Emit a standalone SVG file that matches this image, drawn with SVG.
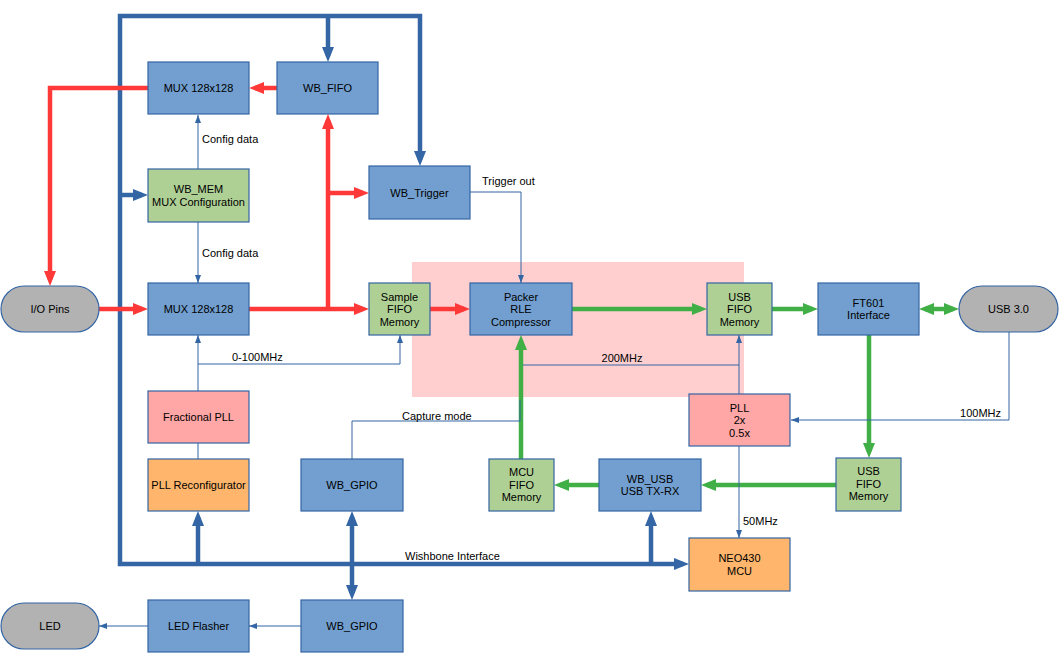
<svg xmlns="http://www.w3.org/2000/svg" width="1061" height="667" viewBox="0 0 1061 667">
<style>
.box{stroke:#3465a4;stroke-width:1.2}
.b{fill:#729fcf}.g{fill:#afd095}.r{fill:#ffa6a6}.o{fill:#ffb66c}.gr{fill:#b2b2b2}
text{font-family:"Liberation Sans",Arial,sans-serif;font-size:11px;fill:#000}
.c{text-anchor:middle}
.bus{fill:none;stroke:#3465a4;stroke-width:4.5}
.red{fill:none;stroke:#ff3838;stroke-width:4.5}
.grn{fill:none;stroke:#3faf46;stroke-width:4.5}
.thin{fill:none;stroke:#3465a4;stroke-width:1}
</style>
<defs>
<marker id="aB" markerUnits="userSpaceOnUse" markerWidth="15" markerHeight="12" refX="9" refY="6" orient="auto-start-reverse"><path d="M0,0L15,6L0,12z" fill="#3465a4"/></marker>
<marker id="aR" markerUnits="userSpaceOnUse" markerWidth="15" markerHeight="12" refX="9" refY="6" orient="auto-start-reverse"><path d="M0,0L15,6L0,12z" fill="#ff3838"/></marker>
<marker id="aG" markerUnits="userSpaceOnUse" markerWidth="15" markerHeight="12" refX="9" refY="6" orient="auto-start-reverse"><path d="M0,0L15,6L0,12z" fill="#3faf46"/></marker>
<marker id="aT" markerUnits="userSpaceOnUse" markerWidth="8" markerHeight="6" refX="8" refY="3" orient="auto"><path d="M0,0L8,3L0,6z" fill="#3465a4"/></marker>
</defs>
<rect id="clock-domain" x="412" y="262" width="332" height="135" fill="#ffcfcf"/>
<g id="connectors">
<path class="bus" d="M420,160L420,16L120,16L120,564L683,564" marker-start="url(#aB)" marker-end="url(#aB)"/>
<path class="bus" d="M328,16L328,56" marker-end="url(#aB)"/>
<path class="bus" d="M120,195L142,195" marker-end="url(#aB)"/>
<path class="bus" d="M198,564L198,517" marker-end="url(#aB)"/>
<path class="bus" d="M651,564L651,517" marker-end="url(#aB)"/>
<path class="bus" d="M352,517L352,594" marker-start="url(#aB)" marker-end="url(#aB)"/>
<path class="red" d="M148,88L50,88L50,280" marker-end="url(#aR)"/>
<path class="red" d="M277,88L255,88" marker-end="url(#aR)"/>
<path class="red" d="M99,309L142,309" marker-end="url(#aR)"/>
<path class="red" d="M249,309L363,309" marker-end="url(#aR)"/>
<path class="red" d="M328,309L328,120" marker-end="url(#aR)"/>
<path class="red" d="M328,193L363,193" marker-end="url(#aR)"/>
<path class="red" d="M430,309L464,309" marker-end="url(#aR)"/>
<path class="grn" d="M572,309L701,309" marker-end="url(#aG)"/>
<path class="grn" d="M772,309L812,309" marker-end="url(#aG)"/>
<path class="grn" d="M925,309L953,309" marker-start="url(#aG)" marker-end="url(#aG)"/>
<path class="grn" d="M869,335L869,452" marker-end="url(#aG)"/>
<path class="grn" d="M836,485L707,485" marker-end="url(#aG)"/>
<path class="grn" d="M599,485L560,485" marker-end="url(#aG)"/>
<path class="grn" d="M521,459L521,341" marker-end="url(#aG)"/>
<path class="thin" d="M198,169L198,115" marker-end="url(#aT)"/>
<path class="thin" d="M198,222L198,283" marker-end="url(#aT)"/>
<path class="thin" d="M198,391L198,335" marker-end="url(#aT)"/>
<path class="thin" d="M198,364L400,364L400,335" marker-end="url(#aT)"/>
<path class="thin" d="M198,443L198,459"/>
<path class="thin" d="M470,192L521,192L521,283" marker-end="url(#aT)"/>
<path class="thin" d="M739,394L739,335" marker-end="url(#aT)"/>
<path class="thin" d="M739,365L523,365"/>
<path class="thin" d="M1009,332L1009,420L791,420" marker-end="url(#aT)"/>
<path class="thin" d="M739,446L739,538" marker-end="url(#aT)"/>
<path class="thin" d="M352,459L352,421L520,421L520,400"/>
<path class="thin" d="M301,626L249,626" marker-end="url(#aT)"/>
<path class="thin" d="M148,626L99,626" marker-end="url(#aT)"/>
<text x="202" y="143">Config data</text>
<text x="202" y="257">Config data</text>
<text x="482" y="185">Trigger out</text>
<text x="232" y="361">0-100MHz</text>
<text x="622" y="362" class="c">200MHz</text>
<text x="1001" y="417" text-anchor="end">100MHz</text>
<text x="402" y="420">Capture mode</text>
<text x="743" y="525">50MHz</text>
<text x="405" y="560">Wishbone Interface</text>
</g>
<g id="mux-top"><rect class="box b" x="148" y="62" width="101" height="52"/><text class="c" x="198.5" y="92">MUX 128x128</text></g>
<g id="wb-fifo"><rect class="box b" x="277" y="62" width="101" height="52"/><text class="c" x="327.5" y="92">WB_FIFO</text></g>
<g id="wb-mem"><rect class="box g" x="148" y="169" width="101" height="53"/><text class="c" x="198.5" y="193">WB_MEM</text><text class="c" x="198.5" y="206">MUX Configuration</text></g>
<g id="wb-trigger"><rect class="box b" x="369" y="166" width="101" height="53"/><text class="c" x="419.5" y="197">WB_Trigger</text></g>
<g id="io-pins"><rect class="box gr" x="1" y="286" width="98" height="46" rx="23"/><text class="c" x="50" y="313">I/O Pins</text></g>
<g id="mux-bottom"><rect class="box b" x="148" y="283" width="101" height="52"/><text class="c" x="198.5" y="313">MUX 128x128</text></g>
<g id="sample-fifo"><rect class="box g" x="369" y="283" width="61" height="52"/><text class="c" x="399.5" y="301">Sample</text><text class="c" x="399.5" y="313">FIFO</text><text class="c" x="399.5" y="326">Memory</text></g>
<g id="packer"><rect class="box b" x="470" y="283" width="102" height="52"/><text class="c" x="521" y="301">Packer</text><text class="c" x="521" y="313">RLE</text><text class="c" x="521" y="326">Compressor</text></g>
<g id="usb-fifo-top"><rect class="box g" x="707" y="283" width="65" height="52"/><text class="c" x="739.5" y="301">USB</text><text class="c" x="739.5" y="313">FIFO</text><text class="c" x="739.5" y="326">Memory</text></g>
<g id="ft601"><rect class="box b" x="818" y="283" width="101" height="52"/><text class="c" x="868.5" y="307">FT601</text><text class="c" x="868.5" y="319">Interface</text></g>
<g id="usb3"><rect class="box gr" x="959" y="286" width="99" height="46" rx="23"/><text class="c" x="1008.5" y="313">USB 3.0</text></g>
<g id="fractional-pll"><rect class="box r" x="148" y="391" width="101" height="52"/><text class="c" x="198.5" y="421">Fractional PLL</text></g>
<g id="pll"><rect class="box r" x="689" y="394" width="101" height="52"/><text class="c" x="739.5" y="412">PLL</text><text class="c" x="739.5" y="424">2x</text><text class="c" x="739.5" y="437">0.5x</text></g>
<g id="pll-reconfigurator"><rect class="box o" x="148" y="459" width="101" height="52"/><text class="c" x="198.5" y="489">PLL Reconfigurator</text></g>
<g id="wb-gpio-capture"><rect class="box b" x="301" y="459" width="102" height="52"/><text class="c" x="352" y="489">WB_GPIO</text></g>
<g id="mcu-fifo"><rect class="box g" x="489" y="459" width="65" height="52"/><text class="c" x="521.5" y="476">MCU</text><text class="c" x="521.5" y="489">FIFO</text><text class="c" x="521.5" y="501">Memory</text></g>
<g id="wb-usb"><rect class="box b" x="599" y="459" width="102" height="52"/><text class="c" x="650" y="483">WB_USB</text><text class="c" x="650" y="495">USB TX-RX</text></g>
<g id="usb-fifo-bottom"><rect class="box g" x="836" y="458" width="65" height="53"/><text class="c" x="868.5" y="475">USB</text><text class="c" x="868.5" y="488">FIFO</text><text class="c" x="868.5" y="500">Memory</text></g>
<g id="neo430"><rect class="box o" x="689" y="538" width="101" height="53"/><text class="c" x="739.5" y="562">NEO430</text><text class="c" x="739.5" y="575">MCU</text></g>
<g id="led"><rect class="box gr" x="1" y="603" width="98" height="46" rx="23"/><text class="c" x="50" y="630">LED</text></g>
<g id="led-flasher"><rect class="box b" x="148" y="600" width="101" height="52"/><text class="c" x="198.5" y="630">LED Flasher</text></g>
<g id="wb-gpio-led"><rect class="box b" x="301" y="600" width="102" height="52"/><text class="c" x="352" y="630">WB_GPIO</text></g>
</svg>
